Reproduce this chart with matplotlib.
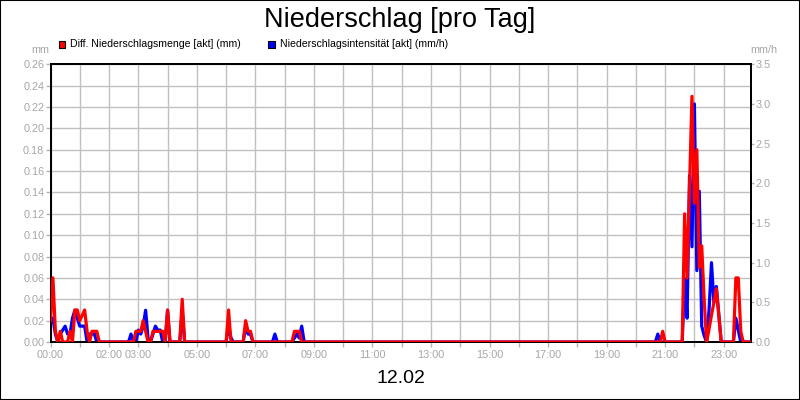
import matplotlib
matplotlib.use("Agg")
import matplotlib.pyplot as plt
from matplotlib.patches import Rectangle

plt.rcParams['font.family'] = ['Liberation Sans', 'DejaVu Sans']

# ---------------- data ----------------
title = "Niederschlag [pro Tag]"
date_label = "12.02"
series_red_name = "Diff. Niederschlagsmenge [akt] (mm)"
series_blue_name = "Niederschlagsintensität [akt] (mm/h)"

red_times = ["00:00", "00:05", "00:10", "00:15", "00:20", "00:25", "00:35", "00:40", "00:45",
             "00:50", "00:55", "01:00", "01:05", "01:10", "01:15", "01:20", "01:25", "01:30",
             "01:35", "01:40",
             "02:50", "02:55", "03:00", "03:05", "03:10", "03:15", "03:20", "03:25", "03:30",
             "03:35", "03:40", "03:45", "03:50", "03:55", "04:00", "04:05",
             "04:25", "04:30", "04:35",
             "06:00", "06:05", "06:10",
             "06:35", "06:40", "06:45", "06:50", "06:55",
             "08:15", "08:20", "08:25", "08:30", "08:35",
             "20:50", "20:55", "21:00",
             "21:35", "21:40", "21:45", "21:50", "21:55", "22:00", "22:05", "22:10", "22:15",
             "22:20", "22:25", "22:30", "22:35", "22:40", "22:45", "22:50", "22:55",
             "23:20", "23:25", "23:30", "23:35", "23:40", "23:55"]
red_values = [0.02, 0.06, 0.01, 0.0, 0.01, 0.0, 0.0, 0.01, 0.0,
              0.03, 0.03, 0.02, 0.025, 0.03, 0.01, 0.0, 0.01, 0.01,
              0.01, 0.0,
              0.0, 0.01, 0.01, 0.01, 0.02, 0.01, 0.0, 0.0, 0.01,
              0.01, 0.01, 0.01, 0.01, 0.0, 0.03, 0.0,
              0.0, 0.04, 0.0,
              0.0, 0.03, 0.0,
              0.0, 0.02, 0.01, 0.01, 0.0,
              0.0, 0.01, 0.01, 0.01, 0.0,
              0.0, 0.01, 0.0,
              0.0, 0.12, 0.06, 0.145, 0.23, 0.13, 0.18, 0.07, 0.09,
              0.04, 0.0, 0.012, 0.025, 0.037, 0.05, 0.025, 0.0,
              0.0, 0.06, 0.06, 0.01, 0.0, 0.0]

blue_times = ["00:00", "00:05", "00:10", "00:15", "00:20", "00:25", "00:30", "00:35", "00:40",
              "00:45", "00:50", "00:55", "01:00", "01:05", "01:10", "01:15", "01:20", "01:25",
              "01:30", "01:35",
              "02:40", "02:45", "02:50", "02:55", "03:00", "03:05", "03:10", "03:15", "03:20",
              "03:25", "03:30", "03:35", "03:40", "03:45", "03:50", "03:55", "04:00", "04:05",
              "04:25", "04:30", "04:35",
              "06:00", "06:05", "06:10", "06:15",
              "06:35", "06:40", "06:45", "06:50", "06:55",
              "07:35", "07:40", "07:45",
              "08:15", "08:20", "08:25", "08:30", "08:35", "08:40",
              "20:40", "20:45", "20:50",
              "21:35", "21:40", "21:45", "21:50", "21:55", "22:00", "22:05", "22:10", "22:15",
              "22:20", "22:25", "22:30", "22:35", "22:40", "22:45", "22:50", "22:55",
              "23:20", "23:25", "23:30", "23:35", "23:55"]
blue_values = [0.3, 0.3, 0.1, 0.0, 0.1, 0.15, 0.2, 0.1, 0.1,
               0.3, 0.4, 0.3, 0.2, 0.2, 0.2, 0.0, 0.1, 0.1,
               0.1, 0.0,
               0.0, 0.1, 0.0, 0.0, 0.15, 0.1, 0.2, 0.4, 0.05,
               0.0, 0.1, 0.2, 0.15, 0.15, 0.0, 0.0, 0.4, 0.0,
               0.0, 0.4, 0.0,
               0.0, 0.2, 0.05, 0.0,
               0.0, 0.2, 0.1, 0.1, 0.0,
               0.0, 0.1, 0.0,
               0.0, 0.05, 0.1, 0.05, 0.2, 0.0,
               0.0, 0.1, 0.0,
               0.0, 0.8, 0.3, 2.1, 1.2, 3.0, 0.9, 1.9, 0.2,
               0.08, 0.0, 0.4, 1.0, 0.5, 0.7, 0.35, 0.0,
               0.0, 0.3, 0.15, 0.0, 0.0]

x_tick_labels = {0: "00:00", 2: "02:00", 3: "03:00", 5: "05:00", 7: "07:00", 9: "09:00",
                 11: "11:00", 13: "13:00", 15: "15:00", 17: "17:00", 19: "19:00",
                 21: "21:00", 23: "23:00"}
left_ticks = [0.00, 0.02, 0.04, 0.06, 0.08, 0.10, 0.12, 0.14, 0.16, 0.18, 0.20, 0.22, 0.24, 0.26]
right_ticks = [0.0, 0.5, 1.0, 1.5, 2.0, 2.5, 3.0, 3.5]


def to_hours(t):
    h, m = t.split(":")
    return int(h) + int(m) / 60.0


red_x = [to_hours(t) for t in red_times]
blue_x = [to_hours(t) for t in blue_times]

# ---------------- figure ----------------
W, H = 800, 400
fig = plt.figure(figsize=(8, 4), dpi=100)
fig.patches.append(Rectangle((0, 0), 1, 1, transform=fig.transFigure, fill=False,
                             ec='black', lw=1.5))

L, R, T, B = 50.5, 750.5, 64.3, 342.0
ax = fig.add_axes([L / W, 1 - B / H, (R - L) / W, (B - T) / H])

tick_col = '#b4b4b4'
lab_col = '#a6a6a6'
fs = 7.8

ax.set_xlim(0, to_hours("23:55"))
ax.set_ylim(0, 0.26)
ax.set_xticks(list(range(24)))
ax.set_xticklabels([x_tick_labels.get(h, "") for h in range(24)])
ax.set_yticks(left_ticks)
ax.set_yticklabels([f"{v:.2f}" for v in left_ticks])
ax.grid(True, color='#c0c0c0', lw=1.0)
ax.set_axisbelow(True)
ax.tick_params(axis='x', colors=tick_col, labelcolor=lab_col, length=3.5, width=1,
               labelsize=fs, pad=2.3)
ax.tick_params(axis='y', colors=tick_col, labelcolor=lab_col, length=3.5, width=1,
               labelsize=fs, pad=1.0)
for s in ax.spines.values():
    s.set_color('black')
    s.set_linewidth(1.4)

ax2 = ax.twinx()
ax2.set_ylim(0, 3.5)
ax2.set_yticks(right_ticks)
ax2.set_yticklabels([f"{v:.1f}" for v in right_ticks])
ax2.tick_params(axis='y', colors=tick_col, labelcolor=lab_col, length=2.5, width=1,
                labelsize=fs, pad=1.2)
for s in ax2.spines.values():
    s.set_color('black')
    s.set_linewidth(1.4)
ax2.plot(blue_x, blue_values, color='#0000ff', lw=2.3, solid_joinstyle='round')

ax3 = ax.twinx()
ax3.set_ylim(0, 0.26)
ax3.axis('off')
ax3.plot(red_x, red_values, color='#ff0000', lw=2.3, solid_joinstyle='round')

# ---------------- texts ----------------
fig.text(400 / W, 1 - 26.7 / H, title, ha='center', va='baseline', fontsize=19.5,
         color='black')
fig.text(400.5 / W, 1 - 383.3 / H, date_label, ha='center', va='baseline', fontsize=14,
         color='black')
fig.text(40 / W, 1 - 50 / H, "mm", ha='center', va='center', fontsize=fs, color=lab_col)
fig.text(764 / W, 1 - 50 / H, "mm/h", ha='center', va='center', fontsize=fs, color=lab_col)

# legend
sq = 6.5
fig.patches.append(Rectangle((58.5 / W, 1 - 47.5 / H), sq / W, sq / H,
                             transform=fig.transFigure, fc='#ff0000', ec='black', lw=0.8))
fig.text(69.5 / W, 1 - 44.2 / H, series_red_name, ha='left', va='center', fontsize=7.6,
         color='black')
fig.patches.append(Rectangle((268.3 / W, 1 - 47.5 / H), sq / W, sq / H,
                             transform=fig.transFigure, fc='#0000ff', ec='black', lw=0.8))
fig.text(279.5 / W, 1 - 44.2 / H, series_blue_name, ha='left', va='center', fontsize=7.6,
         color='black')

fig.savefig("out.png", dpi=100)
